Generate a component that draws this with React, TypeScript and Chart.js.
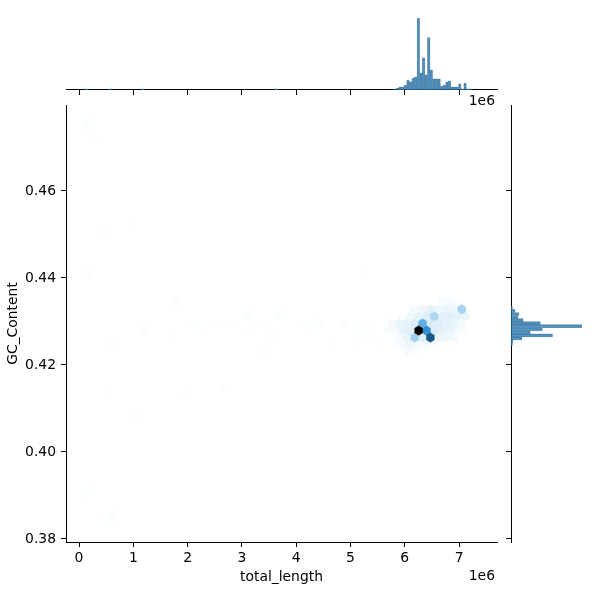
import React, { useEffect, useRef } from "react";
import { Chart, registerables } from "chart.js";

Chart.register(...registerables);

// ---------------- data ----------------
const xTicks = [0, 1, 2, 3, 4, 5, 6, 7]; // total_length, x1e6
const yTicks = [0.38, 0.4, 0.42, 0.44, 0.46]; // GC_Content

// hexbin cells: centre total_length (x1e6), centre GC_Content, count
const hexLength = [
  // GC row 0.43444
  6.6889, 6.8332, 6.9776,
  // GC row 0.43281
  6.1837, 6.328, 6.4724, 6.6167, 6.761, 6.9054, 7.0497,
  // GC row 0.43118
  5.9672, 6.1115, 6.2559, 6.4002, 6.5446, 6.6889, 6.8332, 6.9776, 7.1219,
  // GC row 0.42955
  5.7507, 5.895, 6.0393, 6.1837, 6.328, 6.4724, 6.6167, 6.761, 6.9054, 7.0497,
  // GC row 0.42792
  5.6785, 5.8229, 5.9672, 6.1115, 6.2559, 6.4002, 6.5446, 6.6889, 6.8332, 6.9776, 7.1219,
  // GC row 0.42629
  5.895, 6.0393, 6.1837, 6.328, 6.4724, 6.6167, 6.761, 6.9054,
  // GC row 0.42466
  5.8229, 5.9672, 6.1115, 6.2559, 6.4002, 6.5446,
  // GC row 0.42302
  6.0393, 6.1837,
  // sparse cells
  5.5342, 5.3898, 5.3176, 4.1629, 4.4516, 5.2455,
  0.1214, 0.2657, 0.4823, 0.9874, 0.1936, 1.7813, 1.204, 1.7091, 0.6266,
  2.1422, 2.5752, 2.8639, 3.0804, 3.1528, 3.441, 3.6577, 3.585, 4.3073,
  4.8846, 5.1011, 4.6681, 5.1011, 0.5544, 1.0596, 1.9978, 2.6474, 3.441,
  0.1214, 0.6266, 0.5544,
];
const hexGC = [
  0.43444, 0.43444, 0.43444,
  0.43281, 0.43281, 0.43281, 0.43281, 0.43281, 0.43281, 0.43281,
  0.43118, 0.43118, 0.43118, 0.43118, 0.43118, 0.43118, 0.43118, 0.43118, 0.43118,
  0.42955, 0.42955, 0.42955, 0.42955, 0.42955, 0.42955, 0.42955, 0.42955, 0.42955, 0.42955,
  0.42792, 0.42792, 0.42792, 0.42792, 0.42792, 0.42792, 0.42792, 0.42792, 0.42792, 0.42792, 0.42792,
  0.42629, 0.42629, 0.42629, 0.42629, 0.42629, 0.42629, 0.42629, 0.42629,
  0.42466, 0.42466, 0.42466, 0.42466, 0.42466, 0.42466,
  0.42302, 0.42302,
  0.42466, 0.42792, 0.42629, 0.42955, 0.42955, 0.44097,
  0.47522, 0.47196, 0.45075, 0.45238, 0.44097, 0.43444, 0.42792, 0.42629, 0.42466,
  0.42955, 0.42955, 0.42955, 0.43118, 0.42792, 0.42955, 0.43118, 0.42629, 0.42955,
  0.42955, 0.42792, 0.42466, 0.42466, 0.41398, 0.40835, 0.41324, 0.41487, 0.42302,
  0.3904, 0.38551, 0.38388,
];
const hexCount = [
  12, 12, 6,
  12, 18, 30, 18, 24, 18, 98,
  6, 18, 30, 36, 90, 30, 36, 30, 24,
  12, 24, 30, 42, 172, 42, 36, 30, 24, 12,
  6, 12, 30, 36, 480, 236, 42, 30, 24, 12, 6,
  12, 24, 107, 36, 334, 24, 18, 12,
  6, 12, 18, 12, 12, 6,
  12, 6,
  5, 5, 5, 5, 5, 5,
  6, 5, 5, 5, 6, 6, 6, 5, 5,
  6, 5, 5, 6, 5, 5, 6, 5, 6,
  5, 6, 5, 5, 5, 5, 5, 5, 5,
  6, 6, 6,
];

// marginal histogram of total_length (bin centres x1e6, counts)
const topBinLength = [
  0.14, 0.57, 1.18, 3.64,
  5.82, 5.868, 5.916, 5.963, 6.011, 6.059, 6.107, 6.155, 6.202, 6.25,
  6.298, 6.346, 6.394, 6.441, 6.489, 6.537, 6.585, 6.633, 6.68, 6.728,
  6.776, 6.824, 6.872, 6.919, 6.967, 7.015, 7.063, 7.111, 7.158, 7.206,
];
const topBinCount = [
  6, 6, 6, 6,
  6, 11, 17, 17, 28, 56, 45, 67, 73, 400,
  96, 180, 84, 292, 112, 62, 62, 62, 22, 28,
  45, 51, 17, 17, 17, 34, 6, 39, 6, 6,
];

// marginal histogram of GC_Content (bin centres, counts)
const rightBinGC = [
  0.42472, 0.42542, 0.42612, 0.42682, 0.42752, 0.42822, 0.42892,
  0.42962, 0.43032, 0.43102, 0.43172, 0.43242, 0.43312,
];
const rightBinCount = [8, 11, 61, 228, 106, 172, 389, 161, 67, 39, 44, 22, 8];

// ---------------- layout constants ----------------
const W = 600;
const H = 600;
const MAIN = { left: 66, top: 105, right: 497, bottom: 542 };
const TOP_MARG = { top: 14.7, bottom: 90 };
const RIGHT_MARG = { left: 511, right: 585.4 };
const X_MIN = -0.2395;
const X_MAX = 7.699;
const Y_MIN = 0.37931;
const Y_MAX = 0.47977;
const HEX_SX = 0.14434; // hex cell width (x1e6)
const HEX_SY = 0.003262; // hex lattice height
const FONT = { family: "'DejaVu Sans', sans-serif", size: 13.9 };
const BAR_FILL = "rgba(31,119,180,0.78)";
const BAR_EDGE = "rgba(70,90,110,0.55)";

// ---------------- colormap (light -> C0 -> dark) ----------------
function rgbToHls(r: number, g: number, b: number) {
  const mx = Math.max(r, g, b);
  const mn = Math.min(r, g, b);
  const l = (mx + mn) / 2;
  if (mx === mn) return [0, l, 0];
  const d = mx - mn;
  const s = l <= 0.5 ? d / (mx + mn) : d / (2 - mx - mn);
  const rc = (mx - r) / d;
  const gc = (mx - g) / d;
  const bc = (mx - b) / d;
  let h;
  if (r === mx) h = bc - gc;
  else if (g === mx) h = 2 + rc - bc;
  else h = 4 + gc - rc;
  h = ((h / 6) % 1 + 1) % 1;
  return [h, l, s];
}
function hv(m1: number, m2: number, hue: number) {
  hue = ((hue % 1) + 1) % 1;
  if (hue < 1 / 6) return m1 + (m2 - m1) * hue * 6;
  if (hue < 0.5) return m2;
  if (hue < 2 / 3) return m1 + (m2 - m1) * (2 / 3 - hue) * 6;
  return m1;
}
function hlsToRgb(h: number, l: number, s: number) {
  if (s === 0) return [l, l, l];
  const m2 = l <= 0.5 ? l * (1 + s) : l + s - l * s;
  const m1 = 2 * l - m2;
  return [hv(m1, m2, h + 1 / 3), hv(m1, m2, h), hv(m1, m2, h - 1 / 3)];
}
const [BH, , BS] = rgbToHls(31 / 255, 119 / 255, 180 / 255);
const STOPS: number[][] = [];
for (let n = 0; n < 12; n++) STOPS.push(hlsToRgb(BH, 1 - n / 11, BS));
function cmap(f: number) {
  f = Math.max(0, Math.min(1, f));
  const p = f * (STOPS.length - 1);
  const i = Math.min(Math.floor(p), STOPS.length - 2);
  const t = p - i;
  const c = STOPS[i].map((v, k) => v + (STOPS[i + 1][k] - v) * t);
  return `rgb(${Math.round(c[0] * 255)},${Math.round(c[1] * 255)},${Math.round(c[2] * 255)})`;
}
const V_MIN = 1; // mincnt
const V_MAX = Math.max(...hexCount);
const hexColor = (c: number) => cmap((c - V_MIN) / (V_MAX - V_MIN));

// ---------------- plugin drawing hexagonal cells ----------------
const hexPlugin = {
  id: "hexcells",
  afterDatasetsDraw(chart: any) {
    const { ctx, chartArea } = chart;
    const xs = chart.scales.x;
    const ys = chart.scales.y;
    const meta = chart.getDatasetMeta(0);
    const hw = Math.abs(xs.getPixelForValue(HEX_SX / 2) - xs.getPixelForValue(0));
    const h1 = Math.abs(ys.getPixelForValue(Y_MIN + HEX_SY / 6) - ys.getPixelForValue(Y_MIN));
    const h2 = 2 * h1;
    const order = hexCount.map((_, i) => i).sort((a, b) => hexCount[a] - hexCount[b]);
    ctx.save();
    ctx.beginPath();
    ctx.rect(chartArea.left, chartArea.top, chartArea.right - chartArea.left, chartArea.bottom - chartArea.top);
    ctx.clip();
    for (const i of order) {
      const el = meta.data[i];
      const cx = el.x;
      const cy = el.y;
      const col = hexColor(hexCount[i]);
      ctx.beginPath();
      ctx.moveTo(cx + hw, cy + h1);
      ctx.lineTo(cx + hw, cy - h1);
      ctx.lineTo(cx, cy - h2);
      ctx.lineTo(cx - hw, cy - h1);
      ctx.lineTo(cx - hw, cy + h1);
      ctx.lineTo(cx, cy + h2);
      ctx.closePath();
      ctx.fillStyle = col;
      ctx.fill();
      ctx.strokeStyle = col;
      ctx.lineWidth = 0.5;
      ctx.stroke();
    }
    ctx.restore();
  },
};

const axisGrid = {
  display: true,
  drawOnChartArea: false,
  drawTicks: true,
  tickLength: 5,
  tickColor: "#000",
  tickWidth: 1,
  offset: false,
};
const axisBorder = { display: true, color: "#000", width: 1 };

function mainConfig(): any {
  return {
    type: "scatter",
    data: {
      datasets: [
        {
          data: hexLength.map((x, i) => ({ x, y: hexGC[i] })),
          pointRadius: 0,
          pointHoverRadius: 0,
        },
      ],
    },
    options: {
      animation: false,
      responsive: false,
      events: [],
      layout: { padding: { left: 0, top: MAIN.top, right: W - MAIN.right, bottom: 0 } },
      plugins: { legend: { display: false }, tooltip: { enabled: false } },
      scales: {
        x: {
          type: "linear",
          min: X_MIN,
          max: X_MAX,
          afterFit: (s: any) => {
            s.height = H - MAIN.bottom;
          },
          afterBuildTicks: (s: any) => {
            s.ticks = xTicks.map((v) => ({ value: v }));
          },
          grid: axisGrid,
          border: axisBorder,
          ticks: {
            color: "#000",
            font: FONT,
            padding: 3,
            maxRotation: 0,
            autoSkip: false,
            callback: (v: number) => String(v),
          },
          title: {
            display: true,
            text: "total_length",
            color: "#000",
            font: FONT,
            padding: { top: 0, bottom: 14.7 },
          },
        },
        y: {
          type: "linear",
          min: Y_MIN,
          max: Y_MAX,
          afterFit: (s: any) => {
            s.width = MAIN.left;
          },
          afterBuildTicks: (s: any) => {
            s.ticks = yTicks.map((v) => ({ value: v }));
          },
          grid: axisGrid,
          border: axisBorder,
          ticks: {
            color: "#000",
            font: FONT,
            padding: 5,
            autoSkip: false,
            callback: (v: number) => v.toFixed(2),
          },
          title: {
            display: true,
            text: "GC_Content",
            color: "#000",
            font: FONT,
            padding: { top: 5, bottom: 0 },
          },
        },
      },
    },
    plugins: [hexPlugin],
  };
}

function topConfig(): any {
  const maxC = Math.max(...topBinCount);
  return {
    type: "bar",
    data: {
      datasets: [
        {
          data: topBinLength.map((x, i) => ({ x, y: topBinCount[i] })),
          backgroundColor: BAR_FILL,
          borderColor: BAR_EDGE,
          borderWidth: 0.5,
          barPercentage: 1,
          categoryPercentage: 1,
        },
      ],
    },
    options: {
      animation: false,
      responsive: false,
      events: [],
      layout: { padding: { left: MAIN.left, top: TOP_MARG.top, right: W - MAIN.right, bottom: 0 } },
      plugins: { legend: { display: false }, tooltip: { enabled: false } },
      scales: {
        x: {
          type: "linear",
          offset: false,
          min: X_MIN,
          max: X_MAX,
          afterFit: (s: any) => {
            s.height = H - TOP_MARG.bottom;
          },
          afterBuildTicks: (s: any) => {
            s.ticks = xTicks.map((v) => ({ value: v }));
          },
          grid: axisGrid,
          border: axisBorder,
          ticks: { display: false },
        },
        y: { display: false, min: 0, max: maxC * 1.05 },
      },
    },
  };
}

function rightConfig(): any {
  const maxC = Math.max(...rightBinCount);
  return {
    type: "bar",
    data: {
      datasets: [
        {
          data: rightBinGC.map((y, i) => ({ x: rightBinCount[i], y })),
          backgroundColor: BAR_FILL,
          borderColor: BAR_EDGE,
          borderWidth: 0.5,
          barPercentage: 1,
          categoryPercentage: 1,
        },
      ],
    },
    options: {
      indexAxis: "y",
      animation: false,
      responsive: false,
      events: [],
      layout: { padding: { left: 0, top: MAIN.top, right: W - RIGHT_MARG.right, bottom: H - MAIN.bottom } },
      plugins: { legend: { display: false }, tooltip: { enabled: false } },
      scales: {
        y: {
          type: "linear",
          offset: false,
          min: Y_MIN,
          max: Y_MAX,
          afterFit: (s: any) => {
            s.width = RIGHT_MARG.left;
          },
          afterBuildTicks: (s: any) => {
            s.ticks = yTicks.map((v) => ({ value: v }));
          },
          grid: axisGrid,
          border: axisBorder,
          ticks: { display: false },
        },
        x: { display: false, min: 0, max: maxC * 1.05 },
      },
    },
  };
}

function ChartCanvas({ make }: { make: () => any }) {
  const ref = useRef<HTMLCanvasElement | null>(null);
  useEffect(() => {
    if (!ref.current) return;
    const chart = new Chart(ref.current, make());
    return () => chart.destroy();
  }, [make]);
  return (
    <canvas
      ref={ref}
      width={W}
      height={H}
      style={{ position: "absolute", left: 0, top: 0, width: W, height: H }}
    />
  );
}

const offsetStyle: React.CSSProperties = {
  position: "absolute",
  left: 0,
  width: 495,
  textAlign: "right",
  fontFamily: "'DejaVu Sans', sans-serif",
  fontSize: "13.9px",
  lineHeight: "16px",
  color: "#000",
};

export default function App() {
  return (
    <div
      style={{
        position: "fixed",
        left: 0,
        top: 0,
        width: W,
        height: H,
        background: "#fff",
        overflow: "hidden",
      }}
    >
      <ChartCanvas make={mainConfig} />
      <ChartCanvas make={topConfig} />
      <ChartCanvas make={rightConfig} />
      <div style={{ ...offsetStyle, top: 92.3 }}>1e6</div>
      <div style={{ ...offsetStyle, top: 566.6 }}>1e6</div>
    </div>
  );
}
